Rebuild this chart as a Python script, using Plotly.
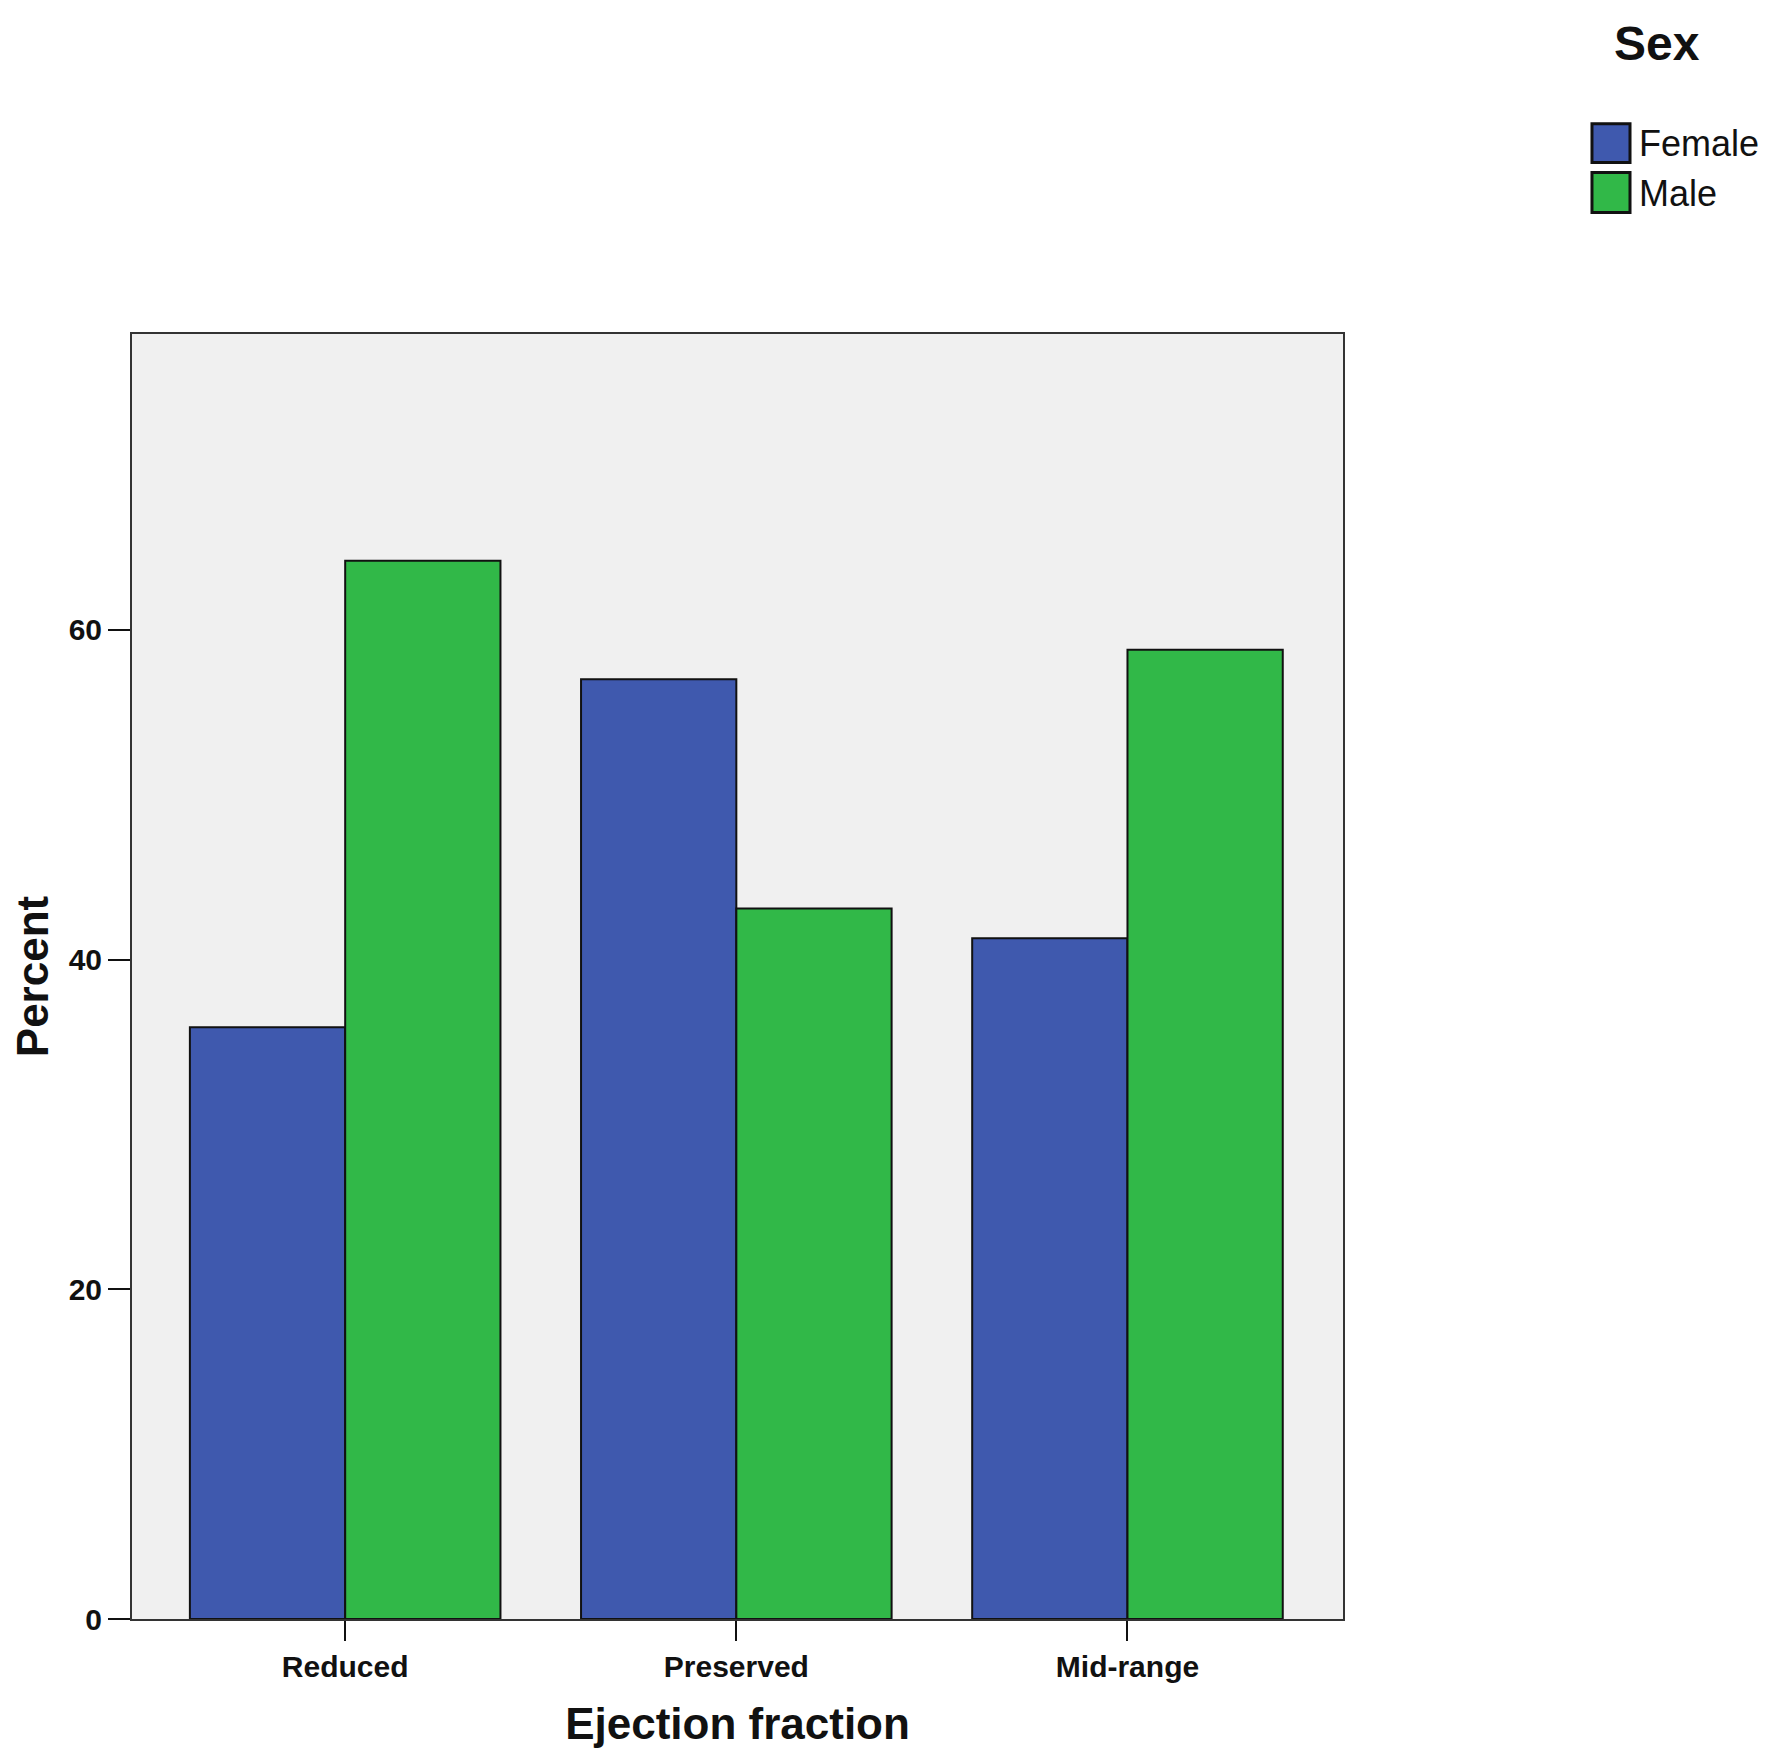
import plotly.graph_objects as go

categories = ["Reduced", "Preserved", "Mid-range"]
female = [35.9, 57.0, 41.3]
male = [64.2, 43.1, 58.8]
y_ticks = [0, 20, 40, 60]

blue = "#3F59AE"
green = "#31B848"
font = "Liberation Sans, Arial, sans-serif"

fig = go.Figure()
fig.add_trace(go.Bar(x=categories, y=female, name="Female", marker=dict(color=blue, line=dict(color="#111", width=2))))
fig.add_trace(go.Bar(x=categories, y=male, name="Male", marker=dict(color=green, line=dict(color="#111", width=2))))

# hand-made legend with large swatches (plotly caps legend symbol size)
fig.add_annotation(text="<b>Sex</b>", x=1.2593, y=1.2258, xref="paper", yref="paper",
                   xanchor="center", yanchor="middle",
                   showarrow=False, font=dict(family=font, size=48, color="#111"))
legend_rows = [("Female", blue, 1.1637, 1.1334, 1.1482), ("Male", green, 1.1257, 1.0946, 1.1094)]
for name, col, y_top, y_bot, y_txt in legend_rows:
    fig.add_shape(type="rect", xref="paper", yref="paper", x0=1.2056, x1=1.2370, y0=y_bot, y1=y_top,
                  fillcolor=col, line=dict(color="#111", width=3))
    fig.add_annotation(text=name, x=1.2428, y=y_txt, xref="paper", yref="paper",
                       xanchor="left", yanchor="middle",
                       showarrow=False, font=dict(family=font, size=36, color="#111"))

fig.update_layout(
    width=1754, height=1744,
    margin=dict(l=124, r=419, t=326, b=129),
    paper_bgcolor="white", plot_bgcolor="#F0F0F0",
    barmode="group", bargap=0.206, bargroupgap=0,
    font=dict(family=font, color="#111"),
    showlegend=False,
)
fig.update_xaxes(range=[-0.545, 2.551], showline=True, mirror=True, linecolor="#333", linewidth=2,
                 tickvals=categories, ticktext=[f"<b>{c}</b>" for c in categories],
                 ticks="outside", ticklen=20, tickwidth=2, tickcolor="#111",
                 tickfont=dict(size=30, family=font),
                 title=dict(text="<b>Ejection fraction</b>", font=dict(size=44, family=font), standoff=26))
fig.update_yaxes(range=[0, 77.95], showline=True, mirror=True, linecolor="#333", linewidth=2,
                 showgrid=False, zeroline=False, tickvals=y_ticks,
                 ticktext=[f"<b>{v}</b>" for v in y_ticks],
                 ticks="outside", ticklen=22, tickwidth=2, tickcolor="#111",
                 tickfont=dict(size=30, family=font),
                 title=dict(text="<b>Percent</b>", font=dict(size=44, family=font), standoff=16))

fig.write_html("out.html")
